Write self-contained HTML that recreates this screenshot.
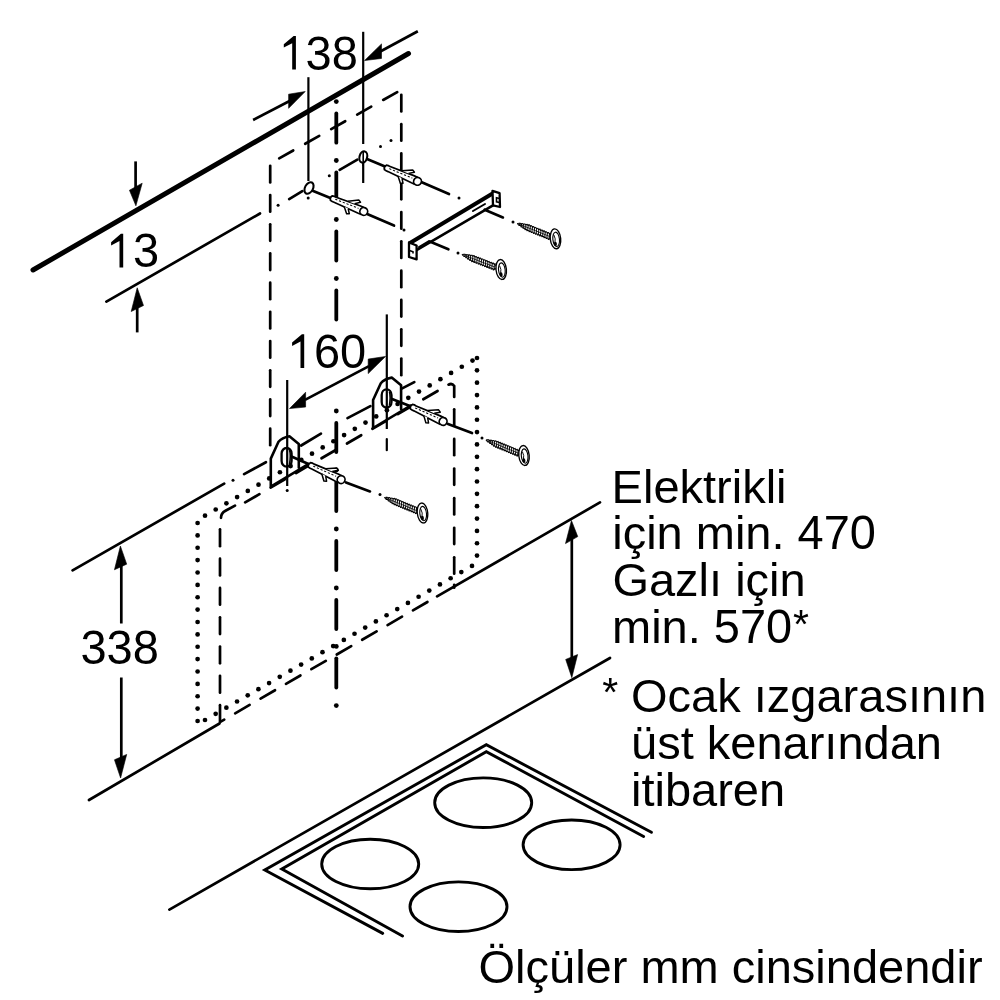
<!DOCTYPE html>
<html><head><meta charset="utf-8"><title>Montaj ölçüleri</title>
<style>
html,body{margin:0;padding:0;background:#fff;}
body{width:1000px;height:1000px;overflow:hidden;position:relative;}
svg{position:absolute;left:0;top:0;display:block;will-change:transform;}
text{font-family:"Liberation Sans",sans-serif;fill:#000;}
</style></head><body>
<svg width="1000" height="1000" viewBox="0 0 1000 1000">
<defs>
<g id="dowel">
  <path d="M1,-2.4 Q3,-3 5,-2.6 L31,-3.8 L34,-3.8 L34,3.8 L31,3.8 L5,2.8 Q3,3.1 1,2.5 Q-1,0 1,-2.4 Z" fill="#fff" stroke="#000" stroke-width="1.7"/>
  <path d="M5,-0.4 L30,-0.9" stroke="#000" stroke-width="1" stroke-dasharray="2.2 1.8" fill="none"/>
  <path d="M17.5,-3.4 L27,-8.6 L29.5,-7.2 L24.5,-3.7" fill="#fff" stroke="#000" stroke-width="1.5" stroke-linejoin="round"/>
  <path d="M16,2.9 L21,8.6 L23.5,7.6 L20.5,3.3" fill="#fff" stroke="#000" stroke-width="1.5" stroke-linejoin="round"/>
  <circle cx="36" cy="0" r="3.9" fill="#fff" stroke="#000" stroke-width="1.7"/>
</g>
<g id="screw">
  <path d="M4,0 L36.5,0" stroke="#000" stroke-width="0.7"/>
  <path d="M1,0 L3.65,-1.30 L4.80,-0.70 L5.95,-1.85 L7.10,-1.15 L8.25,-2.40 L9.40,-1.60 L10.55,-2.95 L11.70,-2.05 L12.85,-3.30 L14.00,-2.10 L15.15,-3.30 L16.30,-2.10 L17.45,-3.30 L18.60,-2.10 L19.75,-3.30 L20.90,-2.10 L22.05,-3.30 L23.20,-2.10 L24.35,-3.30 L25.50,-2.10 L26.65,-3.30 L27.80,-2.10 L28.95,-3.30 L30.10,-2.10 L31.25,-3.30 L32.40,-2.10 L33.55,-3.30 L34.70,-2.10 L35.85,-3.30 L37.00,-2.10" stroke="#000" stroke-width="0.95" fill="none" stroke-linejoin="round"/>
  <path d="M1,0 L3.65,1.30 L4.80,0.70 L5.95,1.85 L7.10,1.15 L8.25,2.40 L9.40,1.60 L10.55,2.95 L11.70,2.05 L12.85,3.30 L14.00,2.10 L15.15,3.30 L16.30,2.10 L17.45,3.30 L18.60,2.10 L19.75,3.30 L20.90,2.10 L22.05,3.30 L23.20,2.10 L24.35,3.30 L25.50,2.10 L26.65,3.30 L27.80,2.10 L28.95,3.30 L30.10,2.10 L31.25,3.30 L32.40,2.10 L33.55,3.30 L34.70,2.10 L35.85,3.30 L37.00,2.10" stroke="#000" stroke-width="0.95" fill="none" stroke-linejoin="round"/>
  <path d="M2.5,-1.1 l1.7,2.2 M4.8,-1.7 l1.7,3.3 M7.1,-2.2 l1.7,4.4 M9.4,-2.8 l1.7,5.5 M11.7,-3.2 l1.7,6.4 M14.0,-3.2 l1.7,6.4 M16.3,-3.2 l1.7,6.4 M18.6,-3.2 l1.7,6.4 M20.9,-3.2 l1.7,6.4 M23.2,-3.2 l1.7,6.4 M25.5,-3.2 l1.7,6.4 M27.8,-3.2 l1.7,6.4 M30.1,-3.2 l1.7,6.4 M32.4,-3.2 l1.7,6.4 M34.7,-3.2 l1.7,6.4" stroke="#000" stroke-width="0.95"/>
  <path d="M36,-1.5 L39.5,-1.5 M36,1.5 L39.5,1.5" stroke="#000" stroke-width="1.1"/>
</g>
<g id="shead">
  <ellipse cx="0" cy="0" rx="5.2" ry="10" fill="#fff" stroke="#000" stroke-width="1.35"/>
  <ellipse cx="0.6" cy="0.6" rx="3.3" ry="7.2" fill="none" stroke="#000" stroke-width="1.1"/>
  <path d="M-1.2,-4 Q0.5,0 -1,4" stroke="#000" stroke-width="0.9" fill="none"/>
  <ellipse cx="-0.6" cy="5" rx="1.5" ry="2.2" fill="#000" stroke="none"/>
</g>
</defs>
<g fill="none" stroke="#000">
<line x1="33" y1="270" x2="408.5" y2="53.5" stroke-width="5" stroke-linecap="round"/>
<line x1="106.4" y1="301.6" x2="260" y2="213.5" stroke-width="2.7" stroke-linecap="round"/>
<line x1="135.6" y1="161.4" x2="135.6" y2="195" stroke-width="2.7" stroke-linecap="butt"/>
<polygon points="135.9,205.8 129.45,190.2 142.2,183.2" fill="#000" stroke="#000" stroke-width="0.6" stroke-linejoin="round"/>
<line x1="137.2" y1="332.4" x2="137.2" y2="300" stroke-width="2.7" stroke-linecap="butt"/>
<polygon points="137.2,287.8 131.2,311.5 143.5,305.5" fill="#000" stroke="#000" stroke-width="0.6" stroke-linejoin="round"/>
<line x1="308.4" y1="77.2" x2="308.4" y2="181" stroke-width="2.2" stroke-linecap="butt"/>
<circle cx="308.2" cy="198" r="1.5" fill="#000" stroke="none"/>
<line x1="363.2" y1="31.8" x2="363.2" y2="144" stroke-width="2.2" stroke-linecap="butt"/>
<line x1="363.2" y1="162" x2="363.2" y2="183" stroke-width="2.2" stroke-linecap="butt"/>
<line x1="253.1" y1="120" x2="292" y2="99.8" stroke-width="2.7" stroke-linecap="butt"/>
<polygon points="305.2,91.55 288.6,94.2 288.6,108.35" fill="#000" stroke="#000" stroke-width="0.6" stroke-linejoin="round"/>
<line x1="417.8" y1="31.3" x2="378" y2="52.8" stroke-width="2.7" stroke-linecap="butt"/>
<polygon points="364.55,60.55 381.5,43.9 381.5,58.45" fill="#000" stroke="#000" stroke-width="0.6" stroke-linejoin="round"/>
<circle cx="278.1" cy="205.2" r="1.5" fill="#000" stroke="none"/>
<line x1="289.16" y1="199.11" x2="302.34" y2="191.19" stroke-width="2.7" stroke-linecap="round"/>
<circle cx="329.3" cy="175.7" r="1.5" fill="#000" stroke="none"/>
<line x1="339.67" y1="169.83" x2="357.33" y2="159.67" stroke-width="2.7" stroke-linecap="round"/>
<circle cx="380.5" cy="146.5" r="1.5" fill="#000" stroke="none"/>
<circle cx="391" cy="140.5" r="1.5" fill="#000" stroke="none"/>
<line x1="270.2" y1="165.85" x2="270.2" y2="182.45" stroke-width="2.7" stroke-linecap="round"/>
<line x1="270.2" y1="195.05" x2="270.2" y2="211.65" stroke-width="2.7" stroke-linecap="round"/>
<line x1="270.2" y1="224.25" x2="270.2" y2="240.85" stroke-width="2.7" stroke-linecap="round"/>
<line x1="270.2" y1="253.45" x2="270.2" y2="270.05" stroke-width="2.7" stroke-linecap="round"/>
<line x1="270.2" y1="282.65" x2="270.2" y2="299.25" stroke-width="2.7" stroke-linecap="round"/>
<line x1="270.2" y1="311.85" x2="270.2" y2="328.45" stroke-width="2.7" stroke-linecap="round"/>
<line x1="270.2" y1="341.05" x2="270.2" y2="357.65" stroke-width="2.7" stroke-linecap="round"/>
<line x1="270.2" y1="370.25" x2="270.2" y2="386.85" stroke-width="2.7" stroke-linecap="round"/>
<line x1="270.2" y1="399.45" x2="270.2" y2="416.05" stroke-width="2.7" stroke-linecap="round"/>
<line x1="270.2" y1="428.65" x2="270.2" y2="445.25" stroke-width="2.7" stroke-linecap="round"/>
<line x1="401.3" y1="94.85" x2="401.3" y2="111.45" stroke-width="2.7" stroke-linecap="round"/>
<line x1="401.3" y1="124.15" x2="401.3" y2="140.75" stroke-width="2.7" stroke-linecap="round"/>
<line x1="401.3" y1="153.45" x2="401.3" y2="170.05" stroke-width="2.7" stroke-linecap="round"/>
<line x1="401.3" y1="182.75" x2="401.3" y2="199.35" stroke-width="2.7" stroke-linecap="round"/>
<line x1="401.3" y1="212.05" x2="401.3" y2="228.65" stroke-width="2.7" stroke-linecap="round"/>
<line x1="401.3" y1="241.35" x2="401.3" y2="257.95" stroke-width="2.7" stroke-linecap="round"/>
<line x1="401.3" y1="270.65" x2="401.3" y2="287.25" stroke-width="2.7" stroke-linecap="round"/>
<line x1="401.3" y1="299.95" x2="401.3" y2="316.55" stroke-width="2.7" stroke-linecap="round"/>
<line x1="401.3" y1="329.25" x2="401.3" y2="345.85" stroke-width="2.7" stroke-linecap="round"/>
<line x1="401.3" y1="358.55" x2="401.3" y2="375.15" stroke-width="2.7" stroke-linecap="round"/>
<line x1="279.18" y1="158.34" x2="293.22" y2="150.46" stroke-width="2.7" stroke-linecap="round"/>
<line x1="305.18" y1="143.75" x2="319.22" y2="135.86" stroke-width="2.7" stroke-linecap="round"/>
<line x1="331.18" y1="129.15" x2="345.22" y2="121.27" stroke-width="2.7" stroke-linecap="round"/>
<line x1="357.18" y1="114.56" x2="371.22" y2="106.67" stroke-width="2.7" stroke-linecap="round"/>
<line x1="383.18" y1="99.96" x2="397.22" y2="92.08" stroke-width="2.7" stroke-linecap="round"/>
<circle cx="336.3" cy="101.6" r="2.4" fill="#000" stroke="none"/>
<line x1="336.3" y1="113.5" x2="336.3" y2="142.7" stroke-width="3.8" stroke-linecap="round"/>
<circle cx="336.3" cy="160.5" r="2.4" fill="#000" stroke="none"/>
<line x1="336.3" y1="172.4" x2="336.3" y2="201.6" stroke-width="3.8" stroke-linecap="round"/>
<circle cx="336.3" cy="219.5" r="2.4" fill="#000" stroke="none"/>
<line x1="336.3" y1="231.4" x2="336.3" y2="260.6" stroke-width="3.8" stroke-linecap="round"/>
<circle cx="336.3" cy="278.5" r="2.4" fill="#000" stroke="none"/>
<line x1="336.3" y1="290.4" x2="336.3" y2="319.6" stroke-width="3.8" stroke-linecap="round"/>
<circle cx="336.3" cy="411" r="2.4" fill="#000" stroke="none"/>
<line x1="336.3" y1="422.9" x2="336.3" y2="452.1" stroke-width="3.8" stroke-linecap="round"/>
<circle cx="336.3" cy="470" r="2.4" fill="#000" stroke="none"/>
<line x1="336.3" y1="481.9" x2="336.3" y2="511.1" stroke-width="3.8" stroke-linecap="round"/>
<circle cx="336.3" cy="529" r="2.4" fill="#000" stroke="none"/>
<line x1="336.3" y1="540.9" x2="336.3" y2="570.1" stroke-width="3.8" stroke-linecap="round"/>
<circle cx="336.3" cy="588" r="2.4" fill="#000" stroke="none"/>
<line x1="336.3" y1="599.9" x2="336.3" y2="629.1" stroke-width="3.8" stroke-linecap="round"/>
<circle cx="336.3" cy="646.4" r="2.4" fill="#000" stroke="none"/>
<line x1="336.3" y1="658.3" x2="336.3" y2="687.5" stroke-width="3.8" stroke-linecap="round"/>
<circle cx="336.3" cy="705.6" r="2.4" fill="#000" stroke="none"/>
<line x1="312" y1="190.5" x2="331" y2="198.3" stroke-width="2.7" stroke-linecap="round"/>
<line x1="366" y1="213.5" x2="394" y2="225.6" stroke-width="2.7" stroke-linecap="round"/>
<circle cx="404" cy="230" r="1.5" fill="#000" stroke="none"/>
<line x1="367" y1="159" x2="385" y2="166.5" stroke-width="2.7" stroke-linecap="round"/>
<line x1="420" y1="181.5" x2="449" y2="194" stroke-width="2.7" stroke-linecap="round"/>
<circle cx="459" cy="198" r="1.5" fill="#000" stroke="none"/>
<use href="#dowel" transform="translate(330.5,197.7) rotate(22.5)"/>
<use href="#dowel" transform="translate(384.5,167) rotate(23.5)"/>
<ellipse cx="309" cy="188" rx="4" ry="6.2" transform="rotate(28 309 188)" fill="#fff" stroke="#000" stroke-width="2.1"/>
<ellipse cx="363.3" cy="157" rx="3.8" ry="5.8" transform="rotate(15 363.3 157)" fill="#fff" stroke="#000" stroke-width="2.1"/>
<line x1="363.2" y1="152" x2="363.2" y2="166" stroke-width="1.6" stroke-linecap="butt"/>
<path d="M409.5,243 L493,193 L500,196.5 L500,207 L416.6,259.4 L409,257 Z" fill="#fff" stroke="none"/>
<line x1="410" y1="243" x2="493" y2="193.2" stroke-width="4" stroke-linecap="round"/>
<line x1="416.6" y1="250.2" x2="493" y2="205.3" stroke-width="2.6" stroke-linecap="round"/>
<path d="M409,242.5 L416.6,245.5 L416.6,259.4 L409,257 Z" fill="#fff" stroke="#000" stroke-width="2.3" stroke-linejoin="round"/>
<path d="M409.5,250.5 L413,251.8 L413,253.5" fill="none" stroke="#000" stroke-width="1.6"/>
<path d="M492.5,190.8 L499.6,193.2 L500,207 L493,205.3 Z" fill="#fff" stroke="#000" stroke-width="2.3" stroke-linejoin="round"/>
<path d="M499.5,198.5 L496.5,197.8 L496.5,201.8 L499.5,202.5" fill="none" stroke="#000" stroke-width="1.6"/>
<line x1="419" y1="247" x2="429" y2="241" stroke-width="2" stroke-linecap="round"/>
<line x1="473" y1="211" x2="485" y2="204" stroke-width="2" stroke-linecap="round"/>
<line x1="484.7" y1="209.7" x2="502.9" y2="217.4" stroke-width="2.7" stroke-linecap="round"/>
<line x1="429.7" y1="241.6" x2="448.4" y2="249.3" stroke-width="2.7" stroke-linecap="round"/>
<circle cx="513" cy="222" r="1.5" fill="#000" stroke="none"/>
<circle cx="458" cy="253" r="1.5" fill="#000" stroke="none"/>
<use href="#screw" transform="translate(516.3,223) rotate(21.95)"/>
<use href="#shead" transform="translate(555.5,238.8) rotate(-6)"/>
<use href="#screw" transform="translate(461,254) rotate(21.09)"/>
<use href="#shead" transform="translate(501.2,269.5) rotate(-6)"/>
<line x1="72.6" y1="570.4" x2="224.2" y2="483.6" stroke-width="2.7" stroke-linecap="round"/>
<circle cx="233" cy="480.3" r="1.5" fill="#000" stroke="none"/>
<line x1="244.09" y1="474.15" x2="265.91" y2="462.25" stroke-width="2.7" stroke-linecap="round"/>
<line x1="301.16" y1="445.51" x2="320.94" y2="433.69" stroke-width="2.7" stroke-linecap="round"/>
<line x1="347.5" y1="418.08" x2="370.4" y2="406.12" stroke-width="2.7" stroke-linecap="round"/>
<line x1="402.2" y1="388.38" x2="414.3" y2="382.12" stroke-width="2.7" stroke-linecap="round"/>
<line x1="220" y1="529.35" x2="220" y2="546.15" stroke-width="2.7" stroke-linecap="round"/>
<line x1="220" y1="558.65" x2="220" y2="575.45" stroke-width="2.7" stroke-linecap="round"/>
<line x1="220" y1="587.95" x2="220" y2="604.75" stroke-width="2.7" stroke-linecap="round"/>
<line x1="220" y1="617.25" x2="220" y2="634.05" stroke-width="2.7" stroke-linecap="round"/>
<line x1="220" y1="646.55" x2="220" y2="663.35" stroke-width="2.7" stroke-linecap="round"/>
<line x1="220" y1="675.85" x2="220" y2="692.65" stroke-width="2.7" stroke-linecap="round"/>
<line x1="220" y1="705.15" x2="220" y2="721.95" stroke-width="2.7" stroke-linecap="round"/>
<path d="M221,517.8 Q221,513.2 225.5,510.8 L235,505.6" stroke-width="2.7" stroke-linecap="round" fill="none"/>
<line x1="245.17" y1="502.43" x2="259.43" y2="494.17" stroke-width="2.7" stroke-linecap="round"/>
<line x1="270.62" y1="487.69" x2="284.88" y2="479.43" stroke-width="2.7" stroke-linecap="round"/>
<line x1="296.07" y1="472.96" x2="310.33" y2="464.7" stroke-width="2.7" stroke-linecap="round"/>
<line x1="321.52" y1="458.22" x2="335.78" y2="449.96" stroke-width="2.7" stroke-linecap="round"/>
<line x1="346.97" y1="443.49" x2="361.23" y2="435.23" stroke-width="2.7" stroke-linecap="round"/>
<line x1="372.42" y1="428.75" x2="386.68" y2="420.49" stroke-width="2.7" stroke-linecap="round"/>
<line x1="397.87" y1="414.01" x2="412.13" y2="405.76" stroke-width="2.7" stroke-linecap="round"/>
<line x1="423.32" y1="399.28" x2="437.58" y2="391.02" stroke-width="2.7" stroke-linecap="round"/>
<path d="M448.5,384.7 Q452,382.8 454.2,386 L454.2,397" stroke-width="2.7" stroke-linecap="round" fill="none"/>
<line x1="454.2" y1="409.35" x2="454.2" y2="425.65" stroke-width="2.7" stroke-linecap="round"/>
<line x1="454.2" y1="438.95" x2="454.2" y2="455.25" stroke-width="2.7" stroke-linecap="round"/>
<line x1="454.2" y1="468.55" x2="454.2" y2="484.85" stroke-width="2.7" stroke-linecap="round"/>
<line x1="454.2" y1="498.15" x2="454.2" y2="514.45" stroke-width="2.7" stroke-linecap="round"/>
<line x1="454.2" y1="527.75" x2="454.2" y2="544.05" stroke-width="2.7" stroke-linecap="round"/>
<line x1="454.2" y1="557.35" x2="454.2" y2="573.65" stroke-width="2.7" stroke-linecap="round"/>
<line x1="454.2" y1="584.85" x2="454.2" y2="587.65" stroke-width="2.7" stroke-linecap="round"/>
<line x1="221.17" y1="721.43" x2="224.23" y2="719.67" stroke-width="2.7" stroke-linecap="round"/>
<line x1="235.17" y1="713.32" x2="249.63" y2="704.94" stroke-width="2.7" stroke-linecap="round"/>
<line x1="260.57" y1="698.61" x2="275.03" y2="690.24" stroke-width="2.7" stroke-linecap="round"/>
<line x1="285.97" y1="683.9" x2="300.43" y2="675.53" stroke-width="2.7" stroke-linecap="round"/>
<line x1="311.37" y1="669.2" x2="325.83" y2="660.82" stroke-width="2.7" stroke-linecap="round"/>
<line x1="336.77" y1="654.49" x2="351.23" y2="646.12" stroke-width="2.7" stroke-linecap="round"/>
<line x1="362.17" y1="639.78" x2="376.63" y2="631.41" stroke-width="2.7" stroke-linecap="round"/>
<line x1="387.57" y1="625.08" x2="402.03" y2="616.7" stroke-width="2.7" stroke-linecap="round"/>
<line x1="412.97" y1="610.37" x2="427.43" y2="602" stroke-width="2.7" stroke-linecap="round"/>
<line x1="437.1" y1="596.4" x2="600" y2="502.4" stroke-width="2.7" stroke-linecap="round"/>
<g transform="translate(0,0)">
<path d="M270.8,486.6 L270.8,458.6 L278.5,441.8 Q282,437.5 289.4,436.2 L298.8,443.9 L298.8,467.8 L308.3,464.2 Z" fill="#fff" stroke="none"/>
<path d="M270.8,486.6 L270.8,458.6 L278.5,441.8 Q282,437.5 289.4,436.2 L298.8,443.9 L298.8,467.8 M270.8,486.6 L308.3,464.2" stroke-width="2.6" fill="none" stroke-linejoin="round" stroke-linecap="round"/>
</g>
<g transform="translate(102.3,-58.6)">
<path d="M270.8,486.6 L270.8,458.6 L278.5,441.8 Q282,437.5 289.4,436.2 L298.8,443.9 L298.8,467.8 L308.3,464.2 Z" fill="#fff" stroke="none"/>
<path d="M270.8,486.6 L270.8,458.6 L278.5,441.8 Q282,437.5 289.4,436.2 L298.8,443.9 L298.8,467.8 M270.8,486.6 L308.3,464.2" stroke-width="2.6" fill="none" stroke-linejoin="round" stroke-linecap="round"/>
</g>
<rect x="281.6" y="448" width="10" height="18.6" rx="5" ry="5.5" fill="#fff" stroke="#000" stroke-width="2.3"/>
<rect x="381.7" y="389.4" width="9.8" height="18.2" rx="4.9" ry="5.5" fill="#fff" stroke="#000" stroke-width="2.3"/>
<path d="M289.5,450 Q291,455 289.5,464 M389.4,391.5 Q390.8,396.5 389.4,405.5" stroke="#000" stroke-width="1.5" fill="none"/>
<line x1="287.2" y1="380" x2="287.2" y2="486" stroke-width="2.2" stroke-linecap="butt"/>
<circle cx="287.2" cy="490.4" r="1.5" fill="#000" stroke="none"/>
<line x1="386.8" y1="314.4" x2="386.8" y2="429" stroke-width="2.2" stroke-linecap="butt"/>
<line x1="386.8" y1="439.1" x2="386.8" y2="450.2" stroke-width="2.2" stroke-linecap="round"/>
<line x1="291.5" y1="456.5" x2="309" y2="464.2" stroke-width="2.7" stroke-linecap="round"/>
<line x1="392" y1="399" x2="410.5" y2="406.2" stroke-width="2.7" stroke-linecap="round"/>
<line x1="305" y1="399.9" x2="369" y2="366.1" stroke-width="2.7" stroke-linecap="butt"/>
<polygon points="289.5,408.6 305.6,392.2 305.6,407.05" fill="#000" stroke="#000" stroke-width="0.6" stroke-linejoin="round"/>
<polygon points="385.55,356.45 368.2,359.1 368.2,373.6" fill="#000" stroke="#000" stroke-width="0.6" stroke-linejoin="round"/>
<circle cx="205" cy="515.71" r="2.35" fill="#000" stroke="none"/>
<circle cx="215.7" cy="509.5" r="2.35" fill="#000" stroke="none"/>
<circle cx="226.4" cy="503.3" r="2.35" fill="#000" stroke="none"/>
<circle cx="237.1" cy="497.09" r="2.35" fill="#000" stroke="none"/>
<circle cx="247.8" cy="490.88" r="2.35" fill="#000" stroke="none"/>
<circle cx="258.5" cy="484.68" r="2.35" fill="#000" stroke="none"/>
<circle cx="269.2" cy="478.47" r="2.35" fill="#000" stroke="none"/>
<circle cx="279.9" cy="472.27" r="2.35" fill="#000" stroke="none"/>
<circle cx="290.6" cy="466.06" r="2.35" fill="#000" stroke="none"/>
<circle cx="301.3" cy="459.85" r="2.35" fill="#000" stroke="none"/>
<circle cx="312" cy="453.65" r="2.35" fill="#000" stroke="none"/>
<circle cx="322.7" cy="447.44" r="2.35" fill="#000" stroke="none"/>
<circle cx="333.4" cy="441.24" r="2.35" fill="#000" stroke="none"/>
<circle cx="344.1" cy="435.03" r="2.35" fill="#000" stroke="none"/>
<circle cx="354.8" cy="428.82" r="2.35" fill="#000" stroke="none"/>
<circle cx="365.5" cy="422.62" r="2.35" fill="#000" stroke="none"/>
<circle cx="376.2" cy="416.41" r="2.35" fill="#000" stroke="none"/>
<circle cx="386.9" cy="410.21" r="2.35" fill="#000" stroke="none"/>
<circle cx="397.6" cy="404" r="2.35" fill="#000" stroke="none"/>
<circle cx="408.3" cy="397.79" r="2.35" fill="#000" stroke="none"/>
<circle cx="419" cy="391.59" r="2.35" fill="#000" stroke="none"/>
<circle cx="429.7" cy="385.38" r="2.35" fill="#000" stroke="none"/>
<circle cx="440.4" cy="379.18" r="2.35" fill="#000" stroke="none"/>
<circle cx="451.1" cy="372.97" r="2.35" fill="#000" stroke="none"/>
<circle cx="461.8" cy="366.76" r="2.35" fill="#000" stroke="none"/>
<circle cx="472.5" cy="360.56" r="2.35" fill="#000" stroke="none"/>
<circle cx="477" cy="358" r="2.35" fill="#000" stroke="none"/>
<circle cx="477" cy="370.35" r="2.35" fill="#000" stroke="none"/>
<circle cx="477" cy="382.7" r="2.35" fill="#000" stroke="none"/>
<circle cx="477" cy="395.05" r="2.35" fill="#000" stroke="none"/>
<circle cx="477" cy="407.4" r="2.35" fill="#000" stroke="none"/>
<circle cx="477" cy="419.75" r="2.35" fill="#000" stroke="none"/>
<circle cx="477" cy="432.1" r="2.35" fill="#000" stroke="none"/>
<circle cx="477" cy="444.45" r="2.35" fill="#000" stroke="none"/>
<circle cx="477" cy="456.8" r="2.35" fill="#000" stroke="none"/>
<circle cx="477" cy="469.15" r="2.35" fill="#000" stroke="none"/>
<circle cx="477" cy="481.5" r="2.35" fill="#000" stroke="none"/>
<circle cx="477" cy="493.85" r="2.35" fill="#000" stroke="none"/>
<circle cx="477" cy="506.2" r="2.35" fill="#000" stroke="none"/>
<circle cx="477" cy="518.55" r="2.35" fill="#000" stroke="none"/>
<circle cx="477" cy="530.9" r="2.35" fill="#000" stroke="none"/>
<circle cx="477" cy="543.25" r="2.35" fill="#000" stroke="none"/>
<circle cx="477" cy="555.6" r="2.35" fill="#000" stroke="none"/>
<circle cx="205" cy="720" r="2.35" fill="#000" stroke="none"/>
<circle cx="215.68" cy="713.84" r="2.35" fill="#000" stroke="none"/>
<circle cx="226.36" cy="707.68" r="2.35" fill="#000" stroke="none"/>
<circle cx="237.04" cy="701.51" r="2.35" fill="#000" stroke="none"/>
<circle cx="247.72" cy="695.35" r="2.35" fill="#000" stroke="none"/>
<circle cx="258.4" cy="689.19" r="2.35" fill="#000" stroke="none"/>
<circle cx="269.08" cy="683.03" r="2.35" fill="#000" stroke="none"/>
<circle cx="279.76" cy="676.86" r="2.35" fill="#000" stroke="none"/>
<circle cx="290.44" cy="670.7" r="2.35" fill="#000" stroke="none"/>
<circle cx="301.12" cy="664.54" r="2.35" fill="#000" stroke="none"/>
<circle cx="311.8" cy="658.38" r="2.35" fill="#000" stroke="none"/>
<circle cx="322.48" cy="652.21" r="2.35" fill="#000" stroke="none"/>
<circle cx="333.16" cy="646.05" r="2.35" fill="#000" stroke="none"/>
<circle cx="343.84" cy="639.89" r="2.35" fill="#000" stroke="none"/>
<circle cx="354.52" cy="633.73" r="2.35" fill="#000" stroke="none"/>
<circle cx="365.2" cy="627.56" r="2.35" fill="#000" stroke="none"/>
<circle cx="375.88" cy="621.4" r="2.35" fill="#000" stroke="none"/>
<circle cx="386.56" cy="615.24" r="2.35" fill="#000" stroke="none"/>
<circle cx="397.24" cy="609.08" r="2.35" fill="#000" stroke="none"/>
<circle cx="407.92" cy="602.92" r="2.35" fill="#000" stroke="none"/>
<circle cx="418.6" cy="596.75" r="2.35" fill="#000" stroke="none"/>
<circle cx="429.28" cy="590.59" r="2.35" fill="#000" stroke="none"/>
<circle cx="439.96" cy="584.43" r="2.35" fill="#000" stroke="none"/>
<circle cx="450.64" cy="578.27" r="2.35" fill="#000" stroke="none"/>
<circle cx="461.32" cy="572.1" r="2.35" fill="#000" stroke="none"/>
<circle cx="472" cy="565.94" r="2.35" fill="#000" stroke="none"/>
<circle cx="197.6" cy="523" r="2.35" fill="#000" stroke="none"/>
<circle cx="197.6" cy="535.38" r="2.35" fill="#000" stroke="none"/>
<circle cx="197.6" cy="547.75" r="2.35" fill="#000" stroke="none"/>
<circle cx="197.6" cy="560.12" r="2.35" fill="#000" stroke="none"/>
<circle cx="197.6" cy="572.5" r="2.35" fill="#000" stroke="none"/>
<circle cx="197.6" cy="584.88" r="2.35" fill="#000" stroke="none"/>
<circle cx="197.6" cy="597.25" r="2.35" fill="#000" stroke="none"/>
<circle cx="197.6" cy="609.62" r="2.35" fill="#000" stroke="none"/>
<circle cx="197.6" cy="622" r="2.35" fill="#000" stroke="none"/>
<circle cx="197.6" cy="634.38" r="2.35" fill="#000" stroke="none"/>
<circle cx="197.6" cy="646.75" r="2.35" fill="#000" stroke="none"/>
<circle cx="197.6" cy="659.12" r="2.35" fill="#000" stroke="none"/>
<circle cx="197.6" cy="671.5" r="2.35" fill="#000" stroke="none"/>
<circle cx="197.6" cy="683.88" r="2.35" fill="#000" stroke="none"/>
<circle cx="197.6" cy="696.25" r="2.35" fill="#000" stroke="none"/>
<circle cx="197.6" cy="708.62" r="2.35" fill="#000" stroke="none"/>
<circle cx="197.6" cy="721" r="2.35" fill="#000" stroke="none"/>
<line x1="346" y1="482.4" x2="370" y2="491.4" stroke-width="2.7" stroke-linecap="round"/>
<circle cx="380" cy="494.5" r="1.5" fill="#000" stroke="none"/>
<line x1="448" y1="424" x2="472" y2="433" stroke-width="2.7" stroke-linecap="round"/>
<circle cx="482" cy="438" r="1.5" fill="#000" stroke="none"/>
<use href="#dowel" transform="translate(308.5,464.4) rotate(25)"/>
<use href="#dowel" transform="translate(410.5,406.2) rotate(25)"/>
<use href="#screw" transform="translate(485,439.5) rotate(22.31)"/>
<use href="#shead" transform="translate(524,455.5) rotate(-6)"/>
<use href="#screw" transform="translate(383.5,497) rotate(22.31)"/>
<use href="#shead" transform="translate(422.5,513) rotate(-6)"/>
<line x1="89" y1="800" x2="219.5" y2="723.5" stroke-width="2.7" stroke-linecap="round"/>
<line x1="169.4" y1="909.6" x2="610" y2="658" stroke-width="2.7" stroke-linecap="round"/>
<line x1="121.3" y1="623.5" x2="121.3" y2="560" stroke-width="2.7" stroke-linecap="butt"/>
<polygon points="120.4,546 114.45,569.75 126.7,564.15" fill="#000" stroke="#000" stroke-width="0.6" stroke-linejoin="round"/>
<line x1="121.3" y1="677.5" x2="121.3" y2="765" stroke-width="2.7" stroke-linecap="butt"/>
<polygon points="120.6,778 114.45,759.8 126.7,754.4" fill="#000" stroke="#000" stroke-width="0.6" stroke-linejoin="round"/>
<line x1="571.8" y1="530" x2="571.8" y2="668" stroke-width="2.7" stroke-linecap="butt"/>
<polygon points="571.45,520.5 565.5,543.6 577.75,536.6" fill="#000" stroke="#000" stroke-width="0.6" stroke-linejoin="round"/>
<polygon points="571.8,677.65 565.7,659.45 577.6,654.55" fill="#000" stroke="#000" stroke-width="0.6" stroke-linejoin="round"/>
<polyline points="382.7,933.4 264.75,870 486.3,744.7 651.4,832.3" stroke-width="2.9" fill="none" stroke-linejoin="miter" stroke-linecap="round"/>
<polyline points="402.5,936.1 281.8,869.1 486.3,751.7 643.6,836.5" stroke-width="2.9" fill="none" stroke-linejoin="miter" stroke-linecap="round"/>
<ellipse cx="370.2" cy="864" rx="48.5" ry="24.8" stroke-width="2.9" fill="none"/>
<ellipse cx="483.2" cy="802.7" rx="48.5" ry="24.8" stroke-width="2.9" fill="none"/>
<ellipse cx="571.6" cy="844.8" rx="48.5" ry="24.8" stroke-width="2.9" fill="none"/>
<ellipse cx="458.5" cy="906.7" rx="48.5" ry="24.8" stroke-width="2.9" fill="none"/>
</g>
<g>
<path transform="translate(279.5,69.6)" d="M16.4,0 H12.7 V-26.4 L4.3,-22 V-25.3 L14.1,-33.7 H16.4 Z" fill="#000"/>
<text x="305.63" y="67.25" font-size="47" transform="scale(1,1.035)">38</text>
<path transform="translate(106.8,267.5)" d="M16.4,0 H12.7 V-26.4 L4.3,-22 V-25.3 L14.1,-33.7 H16.4 Z" fill="#000"/>
<text x="132.93" y="258.45" font-size="47" transform="scale(1,1.035)">3</text>
<path transform="translate(287.8,367.9)" d="M16.4,0 H12.7 V-26.4 L4.3,-22 V-25.3 L14.1,-33.7 H16.4 Z" fill="#000"/>
<text x="313.93" y="355.46" font-size="47" transform="scale(1,1.035)">60</text>
<text x="80.5" y="641.55" font-size="47" transform="scale(1,1.035)">338</text>
<text x="611.6" y="503" font-size="47">Elektrikli</text>
<text x="612.2" y="549" font-size="47">için min.</text>
<text x="797.62" y="530.43" font-size="47" transform="scale(1,1.035)">470</text>
<text x="612.4" y="596" font-size="47">Gazlı için</text>
<text x="612" y="643" font-size="47">min.</text>
<text x="713.84" y="621.26" font-size="47" transform="scale(1,1.035)">570</text>
<text x="793" y="637.9" font-size="41">*</text>
<text x="602.3" y="705.9" font-size="41">*</text>
<text x="631" y="712" font-size="47">Ocak ızgarasının</text>
<text x="631" y="759" font-size="47">üst kenarından</text>
<text x="631" y="806" font-size="47">itibaren</text>
<text x="478.5" y="982.5" font-size="47">Ölçüler mm cinsindendir</text>
</g>
</svg>
</body></html>
